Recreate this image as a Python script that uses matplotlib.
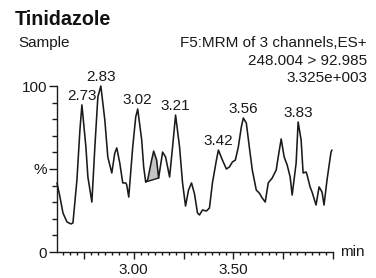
import numpy as np
import matplotlib.pyplot as plt
from matplotlib.ticker import FixedLocator

plt.rcParams['font.family'] = ['Liberation Sans', 'DejaVu Sans']

# chromatogram trace (retention time in min, relative intensity in %)
rt = [2.615, 2.63, 2.645, 2.665, 2.685, 2.695, 2.715, 2.73, 2.74, 2.76,
      2.77, 2.79, 2.805, 2.82, 2.835, 2.855, 2.87, 2.89, 2.905, 2.915,
      2.93, 2.945, 2.96, 2.965, 2.975, 2.995, 3.01, 3.02, 3.04, 3.05,
      3.06, 3.07, 3.09, 3.10, 3.115, 3.125, 3.145, 3.16, 3.18, 3.195,
      3.21, 3.23, 3.245, 3.26, 3.275, 3.29, 3.305, 3.32, 3.33, 3.345,
      3.365, 3.38, 3.395, 3.415, 3.425, 3.445, 3.465, 3.48, 3.495, 3.51,
      3.525, 3.54, 3.55, 3.565, 3.58, 3.595, 3.615, 3.63, 3.645, 3.66,
      3.675, 3.695, 3.715, 3.725, 3.74, 3.755, 3.77, 3.785, 3.795, 3.815,
      3.825, 3.84, 3.85, 3.865, 3.87, 3.885, 3.895, 3.915, 3.93, 3.945,
      3.955, 3.97, 3.99, 3.995]
intensity = [41.6, 33.1, 23.5, 18.1, 16.9, 17.5, 43.4, 73.5, 88.6, 63.3,
             45.2, 30.1, 63.3, 93.4, 100.0, 79.5, 57.2, 47.6, 59.6, 62.7,
             53.6, 41.6, 41.6, 40.4, 33.1, 63.3, 81.3, 86.1, 67.5, 51.2,
             42.2, 43.4, 55.4, 60.8, 55.4, 44.6, 60.2, 57.2, 45.2, 63.3,
             82.5, 63.3, 41.6, 27.7, 37.3, 41.6, 35.0, 23.5, 22.3, 25.3,
             24.7, 26.5, 41.6, 55.4, 61.4, 55.4, 50.0, 51.2, 54.2, 55.4,
             63.3, 75.3, 80.7, 77.7, 63.3, 49.4, 37.3, 35.5, 32.5, 30.1,
             41.6, 44.6, 49.4, 57.2, 68.1, 57.2, 52.4, 45.2, 34.3, 53.6,
             78.3, 67.5, 47.6, 48.2, 46.4, 39.2, 36.1, 28.3, 39.2, 36.1,
             28.3, 43.4, 60.2, 61.4]

peak_labels = ['2.73', '2.83', '3.02', '3.21', '3.42', '3.56', '3.83']
integrated = (3.06, 3.125)  # shaded peak start / end

rt = np.array(rt)
intensity = np.array(intensity)
ink = '#1a1a1a'
fs = 11

fig = plt.figure(figsize=(3.76, 2.78), dpi=100)
ax = fig.add_axes([57 / 376, 26 / 278, 276 / 376, 166 / 278])

ax.plot(rt, intensity, color=ink, lw=1.15, clip_on=False,
        solid_joinstyle='round', solid_capstyle='round')

# integrated peak with straight baseline
m = (rt >= integrated[0]) & (rt <= integrated[1])
xs = rt[m]
base = np.interp(xs, [xs[0], xs[-1]], [intensity[m][0], intensity[m][-1]])
ax.fill_between(xs, base, intensity[m], color='#c4c4c4', lw=0)
ax.plot([xs[0], xs[-1]], [base[0], base[-1]], color=ink, lw=1.0)

# peak labels above local maxima
for lab in peak_labels:
    t = float(lab)
    w = (rt >= t - 0.02) & (rt <= t + 0.02)
    i = np.argmax(np.where(w, intensity, -1))
    ax.annotate(lab, (rt[i], intensity[i]), xytext=(0, 3.5),
                textcoords='offset points', ha='center', va='baseline',
                fontsize=fs, color=ink, annotation_clip=False)

ax.set_xlim(2.615, 3.995)
ax.set_ylim(0, 100)
for s in ['top', 'right']:
    ax.spines[s].set_visible(False)
for s in ['left', 'bottom']:
    ax.spines[s].set_linewidth(1.0)
    ax.spines[s].set_color(ink)

ax.set_yticks([0, 50, 100])
ax.set_yticklabels(['0', '%', '100'])
ax.yaxis.set_minor_locator(FixedLocator(np.arange(10, 100, 10)))
ax.tick_params(axis='y', which='major', length=6, width=1.0, pad=1,
               labelsize=fs, colors=ink)
ax.tick_params(axis='y', which='minor', length=3.5, width=1.0, colors=ink)

ax.set_xticks(np.arange(2.75, 4.01, 0.25))
ax.set_xticklabels(['', '3.00', '', '3.50', '', ''])
ax.xaxis.set_minor_locator(FixedLocator(np.arange(2.75 - 3 * 0.25 / 7, 4.0, 0.25 / 7)))
ax.tick_params(axis='x', which='major', length=5, width=1.0, pad=3,
               labelsize=fs, colors=ink)
ax.tick_params(axis='x', which='minor', length=2.5, width=1.0, colors=ink)

ax.text(1.025, 0, 'min', transform=ax.transAxes, fontsize=fs,
        va='center', ha='left', color=ink)

fig.text(15 / 376, 1 - 25 / 278, 'Tinidazole', fontsize=14.2,
         fontweight='bold', ha='left', va='baseline', color='#111111')
fig.text(18 / 376, 1 - 47 / 278, 'Sample', fontsize=fs,
         ha='left', va='baseline', color=ink)
for txt, yb in [('F5:MRM of 3 channels,ES+', 47),
                ('248.004 > 92.985', 65),
                ('3.325e+003', 82)]:
    fig.text(367 / 376, 1 - yb / 278, txt, fontsize=fs,
             ha='right', va='baseline', color=ink)

fig.savefig('out.png', dpi=100)
